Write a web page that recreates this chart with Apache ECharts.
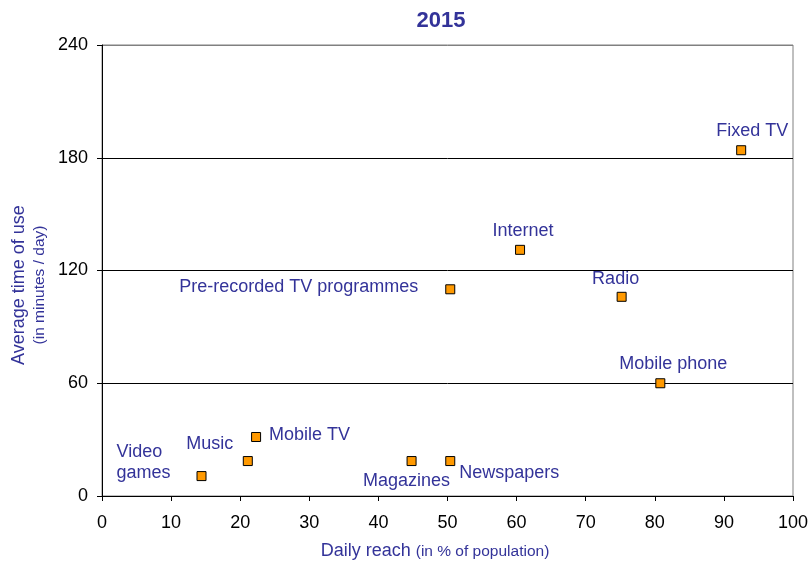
<!DOCTYPE html>
<html>
<head>
<meta charset="utf-8">
<script src="https://cdn.jsdelivr.net/npm/echarts@6/dist/echarts.min.js"></script>
<style>
  html, body { margin: 0; padding: 0; background: #fff; }
  #chart { width: 811px; height: 562px; }
</style>
</head>
<body>
<div id="chart"></div>
<script>
// media use 2015: daily reach (%) vs average time of use (min/day)
var media = ['Fixed TV', 'Internet', 'Pre-recorded TV programmes', 'Radio', 'Mobile phone',
  'Mobile TV', 'Music', 'Video games', 'Magazines', 'Newspapers'];
var reach = [92.5, 60.5, 50.4, 75.2, 80.8, 22.3, 21.1, 14.4, 44.8, 50.4];
var minutes = [184, 131, 110, 106, 60, 31.4, 18.6, 10.6, 18.6, 18.6];
var labelText = ['Fixed TV', 'Internet', 'Pre-recorded TV programmes', 'Radio', 'Mobile phone',
  'Mobile TV', 'Music', 'Video\ngames', 'Magazines', 'Newspapers'];

var blue = '#333399';
var font = 'Liberation Sans, Arial, sans-serif';

// label placement relative to the marker centre
var labelPos = {
  'Fixed TV': { align: 'center', offset: [11, -19] },
  'Internet': { align: 'center', offset: [3, -19] },
  'Pre-recorded TV programmes': { align: 'right', offset: [-32, -2] },
  'Radio': { align: 'center', offset: [-6, -18] },
  'Mobile phone': { align: 'center', offset: [13, -19] },
  'Mobile TV': { align: 'left', offset: [13, -2] },
  'Music': { align: 'center', offset: [-38, -17] },
  'Video games': { align: 'left', offset: [-85, -14] },
  'Magazines': { align: 'center', offset: [-5, 20] },
  'Newspapers': { align: 'left', offset: [9, 12] }
};

var points = media.map(function (m, i) {
  var lp = labelPos[m];
  return {
    name: m,
    value: [reach[i], minutes[i]],
    label: {
      show: true,
      formatter: labelText[i],
      position: 'inside',
      align: lp.align,
      verticalAlign: 'middle',
      offset: lp.offset,
      color: blue,
      fontSize: 18,
      lineHeight: 21,
      fontFamily: font
    }
  };
});

var chart = echarts.init(document.getElementById('chart'));
chart.setOption({
  animation: false,
  textStyle: { fontFamily: font },
  title: {
    text: '2015',
    left: 436,
    top: 5,
    textAlign: 'center',
    textStyle: { color: blue, fontSize: 22, fontWeight: 'bold', fontFamily: font }
  },
  grid: {
    left: 102, right: 18, top: 45, bottom: 66,
    outerBoundsMode: 'none',
    containLabel: false,
    show: true, borderColor: '#808080', borderWidth: 1, backgroundColor: '#fff'
  },
  xAxis: {
    type: 'value', min: 0, max: 100, interval: 10,
    axisLine: { lineStyle: { color: '#000', width: 1 } },
    axisTick: { show: true, length: 5, inside: false, lineStyle: { color: '#000' } },
    axisLabel: { color: '#000', fontSize: 18, margin: 18, fontFamily: font },
    splitLine: { show: false }
  },
  yAxis: {
    type: 'value', min: 0, max: 240, interval: 60,
    axisLine: { show: true, lineStyle: { color: '#000', width: 1 } },
    axisTick: { show: true, length: 5, inside: false, lineStyle: { color: '#000' } },
    axisLabel: { color: '#000', fontSize: 18, margin: 14, fontFamily: font },
    splitLine: { show: true, lineStyle: { color: ['#000', '#000', '#000', '#000', '#808080'], width: 1 } }
  },
  graphic: [
    {
      type: 'text',
      x: 435, y: 551,
      style: {
        text: '{a|Daily reach }{b|(in % of population)}',
        align: 'center', verticalAlign: 'middle',
        rich: {
          a: { fill: blue, fontSize: 18, fontFamily: font },
          b: { fill: blue, fontSize: 15.5, fontFamily: font, padding: [2, 0, 0, 0] }
        }
      }
    },
    {
      type: 'text',
      x: 19, y: 285,
      rotation: Math.PI / 2,
      style: {
        text: 'Average time of use',
        fill: blue, fontSize: 18, fontFamily: font,
        align: 'center', verticalAlign: 'middle'
      }
    },
    {
      type: 'text',
      x: 40, y: 285,
      rotation: Math.PI / 2,
      style: {
        text: '(in minutes / day)',
        fill: blue, fontSize: 15.5, fontFamily: font,
        align: 'center', verticalAlign: 'middle'
      }
    }
  ],
  series: [{
    type: 'scatter',
    symbol: 'rect',
    symbolSize: 9,
    itemStyle: { color: '#FF9900', borderColor: '#000', borderWidth: 1, opacity: 1 },
    data: points
  }]
});
</script>
</body>
</html>
